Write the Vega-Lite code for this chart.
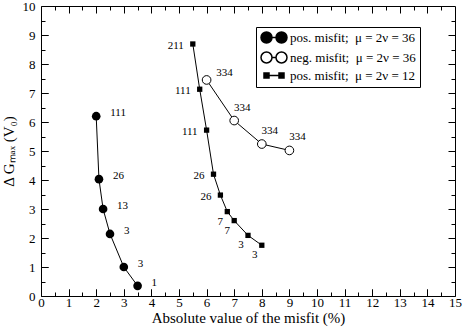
{
  "$schema": "https://vega.github.io/schema/vega-lite/v6.json",
  "autosize": {"type": "none"},
  "padding": {"left": 41, "top": 6, "right": 8, "bottom": 34},
  "width": 414,
  "height": 290,
  "config": {
    "view": {"stroke": "black", "strokeWidth": 1}
  },
  "data": {
    "values": [
      {"set": "A", "series": "pos. misfit;\u00a0 μ = 2ν = 36", "x": 2.0, "y": 6.2, "label": "111"},
      {"set": "A", "series": "pos. misfit;\u00a0 μ = 2ν = 36", "x": 2.1, "y": 4.03, "label": "26"},
      {"set": "A", "series": "pos. misfit;\u00a0 μ = 2ν = 36", "x": 2.25, "y": 3.0, "label": "13"},
      {"set": "A", "series": "pos. misfit;\u00a0 μ = 2ν = 36", "x": 2.5, "y": 2.14, "label": "3"},
      {"set": "A", "series": "pos. misfit;\u00a0 μ = 2ν = 36", "x": 3.0, "y": 1.0, "label": "3"},
      {"set": "A", "series": "pos. misfit;\u00a0 μ = 2ν = 36", "x": 3.5, "y": 0.35, "label": "1"},
      {"set": "B", "series": "neg. misfit;\u00a0 μ = 2ν = 36", "x": 6.0, "y": 7.45, "label": "334"},
      {"set": "B", "series": "neg. misfit;\u00a0 μ = 2ν = 36", "x": 7.0, "y": 6.05, "label": "334"},
      {"set": "B", "series": "neg. misfit;\u00a0 μ = 2ν = 36", "x": 8.0, "y": 5.24, "label": "334"},
      {"set": "B", "series": "neg. misfit;\u00a0 μ = 2ν = 36", "x": 9.0, "y": 5.02, "label": "334"},
      {"set": "C", "series": "pos. misfit;\u00a0 μ = 2ν = 12", "x": 5.5, "y": 8.69, "label": "211"},
      {"set": "C", "series": "pos. misfit;\u00a0 μ = 2ν = 12", "x": 5.75, "y": 7.13, "label": "111"},
      {"set": "C", "series": "pos. misfit;\u00a0 μ = 2ν = 12", "x": 6.0, "y": 5.72, "label": "111"},
      {"set": "C", "series": "pos. misfit;\u00a0 μ = 2ν = 12", "x": 6.25, "y": 4.2, "label": "26"},
      {"set": "C", "series": "pos. misfit;\u00a0 μ = 2ν = 12", "x": 6.5, "y": 3.48, "label": "26"},
      {"set": "C", "series": "pos. misfit;\u00a0 μ = 2ν = 12", "x": 6.75, "y": 2.91, "label": "7"},
      {"set": "C", "series": "pos. misfit;\u00a0 μ = 2ν = 12", "x": 7.0, "y": 2.6, "label": "7"},
      {"set": "C", "series": "pos. misfit;\u00a0 μ = 2ν = 12", "x": 7.5, "y": 2.09, "label": "3"},
      {"set": "C", "series": "pos. misfit;\u00a0 μ = 2ν = 12", "x": 8.0, "y": 1.75, "label": "3"}
    ]
  },
  "resolve": {"axis": {"x": "independent", "y": "independent"}},
  "layer": [
    {
      "mark": {"type": "point", "opacity": 0},
      "encoding": {
        "x": {"field": "x", "type": "quantitative", "scale": {"domain": [0, 15], "nice": false},
          "axis": {"orient": "bottom", "title": null, "labels": false, "ticks": false, "domainOpacity": 0,
            "grid": true, "gridColor": "black", "gridOpacity": 1, "gridWidth": 1, "gridDash": [7, 276, 7, 1000], "zindex": 1,
            "values": [1,2,3,4,5,6,7,8,9,10,11,12,13,14]}},
        "y": {"field": "y", "type": "quantitative", "scale": {"domain": [0, 10], "nice": false},
          "axis": {"orient": "left", "title": null, "labels": false, "ticks": false, "domainOpacity": 0,
            "grid": true, "gridColor": "black", "gridOpacity": 1, "gridWidth": 1, "gridDash": [7, 400, 7, 1000], "zindex": 1,
            "values": [1,2,3,4,5,6,7,8,9]}}
      }
    },
    {
      "mark": {"type": "point", "opacity": 0},
      "encoding": {
        "x": {"field": "x", "type": "quantitative",
          "axis": {"orient": "bottom", "title": null, "labels": false, "ticks": false, "domainOpacity": 0,
            "grid": true, "gridColor": "black", "gridOpacity": 1, "gridWidth": 1, "gridDash": [4, 282, 4, 1000], "zindex": 1,
            "values": [0.5,1.5,2.5,3.5,4.5,5.5,6.5,7.5,8.5,9.5,10.5,11.5,12.5,13.5,14.5]}},
        "y": {"field": "y", "type": "quantitative",
          "axis": {"orient": "left", "title": null, "labels": false, "ticks": false, "domainOpacity": 0,
            "grid": true, "gridColor": "black", "gridOpacity": 1, "gridWidth": 1, "gridDash": [4, 406, 4, 1000], "zindex": 1,
            "values": [0.5,1.5,2.5,3.5,4.5,5.5,6.5,7.5,8.5,9.5]}}
      }
    },
    {
      "mark": {"type": "line", "color": "black", "strokeWidth": 1},
      "encoding": {
        "x": {"field": "x", "type": "quantitative",
          "axis": {"orient": "bottom", "title": "Absolute value of the misfit (%)",
            "values": [0,1,2,3,4,5,6,7,8,9,10,11,12,13,14,15],
            "labelExpr": "'' + datum.value", "ticks": true, "tickColor": "black", "tickWidth": 1,
            "domainOpacity": 0, "grid": false, "zindex": 1,
            "labelFont": "Liberation Serif", "labelFontSize": 13, "labelColor": "black",
            "labelFlush": false, "labelOverlap": false,
            "titleFont": "Liberation Serif", "titleFontSize": 15, "titleFontWeight": "normal", "titleColor": "black",
            "tickSize": 7, "offset": -7,
            "labelPadding": 0, "titlePadding": 1}},
        "y": {"field": "y", "type": "quantitative",
          "axis": {"orient": "left", "title": "Δ Gₘₐₓ (V₀)",
            "values": [0,1,2,3,4,5,6,7,8,9,10],
            "labelExpr": "'' + datum.value", "ticks": true, "tickColor": "black", "tickWidth": 1,
            "domainOpacity": 0, "grid": false, "zindex": 1,
            "labelFont": "Liberation Serif", "labelFontSize": 13, "labelColor": "black",
            "labelFlush": false, "labelOverlap": false,
            "titleFont": "Liberation Serif", "titleFontSize": 15, "titleFontWeight": "normal", "titleColor": "black",
            "tickSize": 7, "offset": -7,
            "labelPadding": 6, "titlePadding": 6}},
        "detail": {"field": "set"}
      }
    },
    {
      "transform": [{"filter": "datum.set === 'A'"}],
      "mark": {"type": "point", "shape": "circle", "filled": true, "color": "black", "size": 75, "opacity": 1},
      "encoding": {
        "x": {"field": "x", "type": "quantitative", "axis": null},
        "y": {"field": "y", "type": "quantitative", "axis": null}
      }
    },
    {
      "transform": [{"filter": "datum.set === 'B'"}],
      "mark": {"type": "point", "shape": "circle", "filled": true, "fill": "white", "stroke": "black", "strokeWidth": 1, "size": 75, "opacity": 1},
      "encoding": {
        "x": {"field": "x", "type": "quantitative", "axis": null},
        "y": {"field": "y", "type": "quantitative", "axis": null}
      }
    },
    {
      "transform": [{"filter": "datum.set === 'C'"}],
      "mark": {"type": "point", "shape": "square", "filled": true, "color": "black", "size": 28, "opacity": 1},
      "encoding": {
        "x": {"field": "x", "type": "quantitative", "axis": null},
        "y": {"field": "y", "type": "quantitative", "axis": null}
      }
    },
    {
      "transform": [{"filter": "datum.set === 'A'"}],
      "mark": {"type": "text", "align": "left", "baseline": "middle", "dx": 14, "dy": -3, "fontSize": 11, "font": "Liberation Serif", "color": "black"},
      "encoding": {
        "x": {"field": "x", "type": "quantitative", "axis": null},
        "y": {"field": "y", "type": "quantitative", "axis": null},
        "text": {"field": "label"}
      }
    },
    {
      "transform": [{"filter": "datum.set === 'B' && datum.x < 6.5"}],
      "mark": {"type": "text", "align": "center", "baseline": "middle", "dx": 18, "dy": -7, "fontSize": 11, "font": "Liberation Serif", "color": "black"},
      "encoding": {
        "x": {"field": "x", "type": "quantitative", "axis": null},
        "y": {"field": "y", "type": "quantitative", "axis": null},
        "text": {"field": "label"}
      }
    },
    {
      "transform": [{"filter": "datum.set === 'B' && datum.x > 6.5"}],
      "mark": {"type": "text", "align": "center", "baseline": "middle", "dx": 8, "dy": -13, "fontSize": 11, "font": "Liberation Serif", "color": "black"},
      "encoding": {
        "x": {"field": "x", "type": "quantitative", "axis": null},
        "y": {"field": "y", "type": "quantitative", "axis": null},
        "text": {"field": "label"}
      }
    },
    {
      "transform": [{"filter": "datum.set === 'C' && datum.y > 3.2"}],
      "mark": {"type": "text", "align": "right", "baseline": "middle", "dx": -9, "dy": 2, "fontSize": 11, "font": "Liberation Serif", "color": "black"},
      "encoding": {
        "x": {"field": "x", "type": "quantitative", "axis": null},
        "y": {"field": "y", "type": "quantitative", "axis": null},
        "text": {"field": "label"}
      }
    },
    {
      "transform": [{"filter": "datum.set === 'C' && datum.y < 3.2"}],
      "mark": {"type": "text", "align": "center", "baseline": "middle", "dx": -7, "dy": 10, "fontSize": 11, "font": "Liberation Serif", "color": "black"},
      "encoding": {
        "x": {"field": "x", "type": "quantitative", "axis": null},
        "y": {"field": "y", "type": "quantitative", "axis": null},
        "text": {"field": "label"}
      }
    },
    {
      "transform": [{"filter": "false"}],
      "mark": {"type": "point", "filled": true, "stroke": "black", "strokeWidth": 1, "opacity": 1},
      "encoding": {
        "shape": {"field": "series", "type": "nominal",
          "scale": {
            "domain": ["pos. misfit;\u00a0 μ = 2ν = 36", "neg. misfit;\u00a0 μ = 2ν = 36", "pos. misfit;\u00a0 μ = 2ν = 12"],
            "range": [
              "M -1.1 0 A 1.1 1.1 0 1 0 1.1 0 A 1.1 1.1 0 1 0 -1.1 0 Z M 1.1 0 L 1.9 0 M 1.9 0 A 1.1 1.1 0 1 0 4.1 0 A 1.1 1.1 0 1 0 1.9 0 Z",
              "M -1.1 0 A 1.1 1.1 0 1 0 1.1 0 A 1.1 1.1 0 1 0 -1.1 0 Z M 1.1 0 L 1.9 0 M 1.9 0 A 1.1 1.1 0 1 0 4.1 0 A 1.1 1.1 0 1 0 1.9 0 Z",
              "M -0.5 -0.5 L 0.5 -0.5 L 0.5 0.5 L -0.5 0.5 Z M 0.5 0 L 2.5 0 M 2.5 -0.5 L 3.5 -0.5 L 3.5 0.5 L 2.5 0.5 Z"
            ]
          },
          "legend": {
            "title": null, "orient": "none", "legendX": 215, "legendY": 21,
            "strokeColor": "black", "fillColor": "white", "padding": 4,
            "labelFont": "Liberation Serif", "labelFontSize": 13, "labelColor": "black",
            "symbolSize": 100, "symbolOpacity": 1,
            "labelOffset": 17, "rowPadding": 3,
            "encode": {"symbols": {"update": {"stroke": {"value": "black"}, "strokeWidth": {"value": 1}}}}
          }
        },
        "fill": {"field": "series", "type": "nominal",
          "scale": {
            "domain": ["pos. misfit;\u00a0 μ = 2ν = 36", "neg. misfit;\u00a0 μ = 2ν = 36", "pos. misfit;\u00a0 μ = 2ν = 12"],
            "range": ["black", "white", "black"]
          },
          "legend": {
            "title": null, "orient": "none", "legendX": 215, "legendY": 21,
            "strokeColor": "black", "fillColor": "white", "padding": 4,
            "labelFont": "Liberation Serif", "labelFontSize": 13, "labelColor": "black",
            "symbolSize": 100, "symbolOpacity": 1,
            "labelOffset": 17, "rowPadding": 3,
            "encode": {"symbols": {"update": {"stroke": {"value": "black"}, "strokeWidth": {"value": 1}}}}
          }
        }
      }
    }
  ]
}
